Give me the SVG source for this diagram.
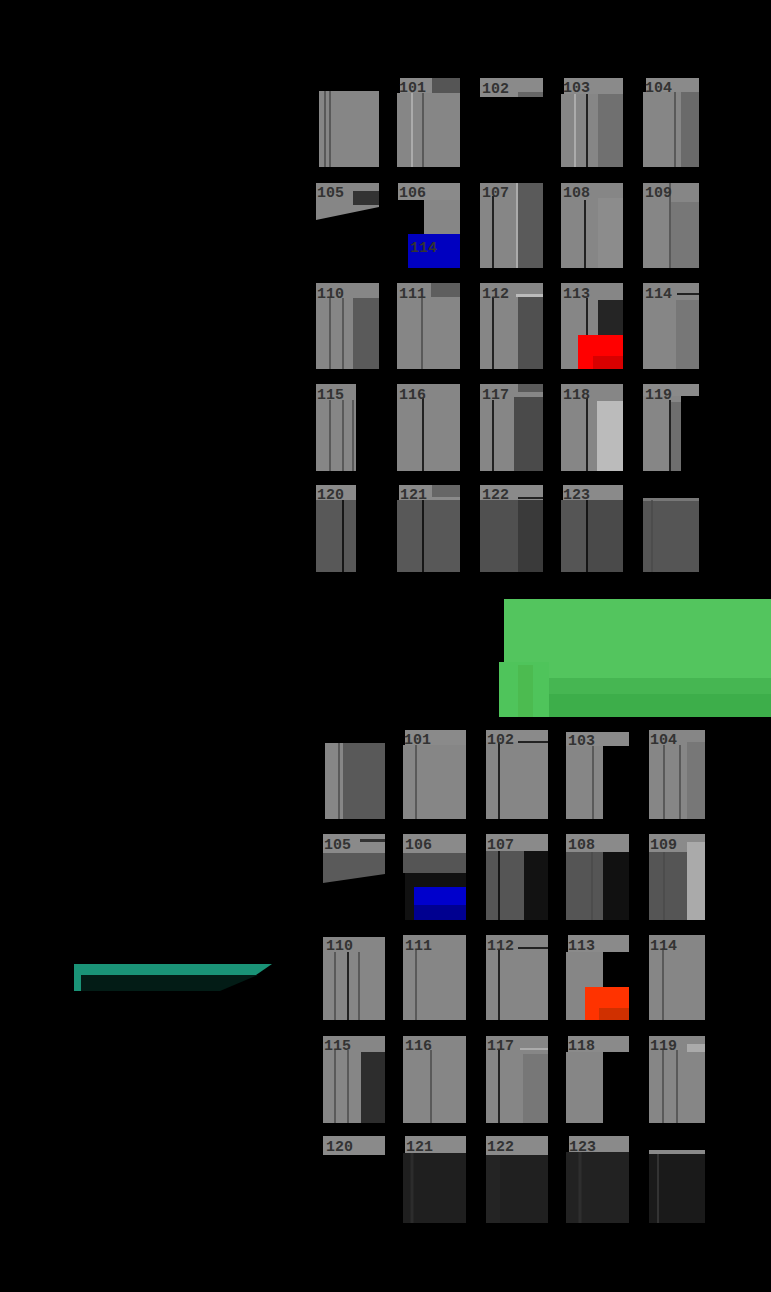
<svg xmlns="http://www.w3.org/2000/svg" width="771" height="1292" viewBox="0 0 771 1292">
<style>
.bd{fill:#8a8a8a}
.bo{fill:#868686}
.t{font-family:"Liberation Mono",monospace;font-size:15px;font-weight:bold;fill:#333}
.dl{stroke:#4a4a4a;stroke-width:1.5}
.bl{stroke:#000;stroke-width:1.5}
.wl{stroke:#d0d0d0;stroke-width:1}
</style>
<rect width="771" height="1292" fill="#000"/>
<g id="grid-top">
 <g id="t100"><rect class="bo" x="319" y="91" width="60" height="76"/><line class="dl" x1="325" y1="91" x2="325" y2="167"/><line class="dl" x1="330" y1="91" x2="330" y2="167"/></g>
 <g id="t101"><rect class="bo" x="397" y="93" width="63" height="74"/><rect class="bd" x="400" y="78" width="60" height="15"/><rect fill="#555" x="432" y="78" width="28" height="15"/><line class="wl" x1="412" y1="93" x2="412" y2="167"/><line class="dl" x1="423" y1="93" x2="423" y2="167"/><text class="t" x="399" y="92">101</text></g>
 <g id="t102"><rect class="bd" x="480" y="78" width="63" height="19"/><rect fill="#666" x="518" y="92" width="25" height="5"/><text class="t" x="482" y="93">102</text></g>
 <g id="t103"><rect class="bo" x="561" y="94" width="62" height="73"/><rect fill="#707070" x="598" y="94" width="25" height="73"/><rect class="bd" x="564" y="78" width="59" height="16"/><line class="wl" x1="575" y1="94" x2="575" y2="167"/><line class="bl" x1="587" y1="94" x2="587" y2="167"/><text class="t" x="563" y="92">103</text></g>
 <g id="t104"><rect class="bo" x="643" y="92" width="56" height="75"/><rect fill="#6a6a6a" x="681" y="92" width="18" height="75"/><rect class="bd" x="646" y="78" width="53" height="14"/><line class="dl" x1="675" y1="92" x2="675" y2="167"/><text class="t" x="645" y="92">104</text></g>

 <g id="t105"><polygon class="bo" points="316,183 379,183 379,207 316,220"/><rect fill="#333" x="353" y="191" width="26" height="14"/><text class="t" x="317" y="197">105</text></g>
 <g id="t106"><rect class="bd" x="398" y="183" width="62" height="17"/><rect class="bo" x="424" y="200" width="36" height="35"/><rect fill="#0000c0" x="408" y="234" width="52" height="34"/><text class="t" x="399" y="197">106</text><text class="t" x="410" y="252" fill="#000070">114</text></g>
 <g id="t107"><rect class="bo" x="480" y="183" width="63" height="85"/><rect fill="#5a5a5a" x="518" y="183" width="25" height="85"/><line class="bl" x1="493" y1="196" x2="493" y2="268"/><line class="wl" x1="517" y1="183" x2="517" y2="268"/><text class="t" x="482" y="197">107</text></g>
 <g id="t108"><rect class="bo" x="561" y="183" width="62" height="85"/><rect fill="#8c8c8c" x="598" y="198" width="25" height="70"/><line class="bl" x1="585" y1="200" x2="585" y2="268"/><text class="t" x="563" y="197">108</text></g>
 <g id="t109"><rect class="bo" x="643" y="183" width="56" height="85"/><rect fill="#777" x="671" y="202" width="28" height="66"/><line class="dl" x1="670" y1="183" x2="670" y2="268"/><text class="t" x="645" y="197">109</text></g>

 <g id="t110"><rect class="bo" x="316" y="283" width="63" height="86"/><rect fill="#5a5a5a" x="353" y="298" width="26" height="71"/><line class="dl" x1="330" y1="298" x2="330" y2="369"/><line class="dl" x1="343" y1="298" x2="343" y2="369"/><text class="t" x="317" y="298">110</text></g>
 <g id="t111"><rect class="bo" x="397" y="283" width="63" height="86"/><rect fill="#5e5e5e" x="431" y="283" width="29" height="14"/><line class="dl" x1="422" y1="297" x2="422" y2="369"/><text class="t" x="399" y="298">111</text></g>
 <g id="t112"><rect class="bo" x="480" y="283" width="63" height="86"/><rect fill="#505050" x="518" y="297" width="25" height="72"/><rect fill="#bbb" x="516" y="294" width="27" height="3"/><line class="bl" x1="493" y1="297" x2="493" y2="369"/><text class="t" x="482" y="298">112</text></g>
 <g id="t113"><rect class="bo" x="561" y="283" width="62" height="86"/><rect fill="#252525" x="598" y="300" width="25" height="35"/><rect fill="#ff0000" x="578" y="335" width="45" height="34"/><rect fill="#d80000" x="593" y="356" width="30" height="13"/><line class="bl" x1="587" y1="298" x2="587" y2="335"/><text class="t" x="563" y="298">113</text></g>
 <g id="t114"><rect class="bo" x="643" y="283" width="56" height="86"/><rect fill="#777" x="676" y="300" width="23" height="69"/><line class="bl" x1="677" y1="294" x2="699" y2="294"/><text class="t" x="645" y="298">114</text></g>

 <g id="t115"><rect class="bo" x="316" y="384" width="40" height="87"/><line class="dl" x1="330" y1="400" x2="330" y2="471"/><line class="dl" x1="343" y1="400" x2="343" y2="471"/><line class="dl" x1="353" y1="400" x2="353" y2="471"/><text class="t" x="317" y="399">115</text></g>
 <g id="t116"><rect class="bo" x="397" y="384" width="63" height="87"/><line class="bl" x1="423" y1="398" x2="423" y2="471"/><text class="t" x="399" y="399">116</text></g>
 <g id="t117"><rect class="bo" x="480" y="384" width="63" height="87"/><rect fill="#4a4a4a" x="514" y="397" width="29" height="74"/><rect fill="#5a5a5a" x="518" y="384" width="25" height="8"/><line class="bl" x1="493" y1="400" x2="493" y2="471"/><text class="t" x="482" y="399">117</text></g>
 <g id="t118"><rect class="bo" x="561" y="384" width="62" height="87"/><rect fill="#bbbbbb" x="597" y="401" width="26" height="70"/><line class="bl" x1="587" y1="398" x2="587" y2="471"/><text class="t" x="563" y="399">118</text></g>
 <g id="t119"><rect class="bo" x="643" y="384" width="38" height="87"/><rect class="bd" x="643" y="384" width="56" height="12"/><rect fill="#6e6e6e" x="671" y="402" width="10" height="69"/><line class="bl" x1="670" y1="400" x2="670" y2="471"/><text class="t" x="645" y="399">119</text></g>

 <g id="t120"><rect fill="#585858" x="316" y="500" width="40" height="72"/><rect class="bd" x="316" y="485" width="40" height="15"/><line class="bl" x1="343" y1="500" x2="343" y2="572"/><text class="t" x="317" y="499">120</text></g>
 <g id="t121"><rect fill="#585858" x="397" y="500" width="63" height="72"/><rect class="bd" x="399" y="485" width="61" height="15"/><rect fill="#666" x="432" y="485" width="28" height="12"/><line class="bl" x1="423" y1="500" x2="423" y2="572"/><text class="t" x="400" y="499">121</text></g>
 <g id="t122"><rect fill="#505050" x="480" y="500" width="63" height="72"/><rect fill="#3a3a3a" x="518" y="500" width="25" height="72"/><rect class="bd" x="480" y="485" width="63" height="15"/><line class="bl" x1="518" y1="498" x2="543" y2="498"/><text class="t" x="482" y="499">122</text></g>
 <g id="t123"><rect fill="#555" x="561" y="500" width="62" height="72"/><rect fill="#4a4a4a" x="588" y="500" width="35" height="72"/><rect class="bd" x="563" y="485" width="60" height="15"/><line class="bl" x1="587" y1="500" x2="587" y2="572"/><text class="t" x="563" y="499">123</text></g>
 <g id="t124"><rect fill="#555" x="643" y="498" width="56" height="74"/><rect fill="#777" x="643" y="498" width="56" height="3"/><line class="dl" x1="652" y1="500" x2="652" y2="572"/></g>
</g>

<g id="green-block">
 <rect fill="#53c55e" x="504" y="599" width="267" height="118"/>
 <rect fill="#46b652" x="499" y="678" width="272" height="16"/>
 <rect fill="#3dae4a" x="499" y="694" width="272" height="23"/>
 <rect fill="#4fc45b" x="499" y="662" width="50" height="55"/>
 <rect fill="#4cbb50" x="518" y="665" width="15" height="52"/>
</g>

<g id="grid-bottom">
 <g id="b100"><rect class="bo" x="325" y="743" width="60" height="76"/><rect fill="#595959" x="343" y="743" width="42" height="76"/><line class="dl" x1="339" y1="743" x2="339" y2="819"/></g>
 <g id="b101"><rect class="bo" x="403" y="745" width="63" height="74"/><rect class="bd" x="405" y="730" width="61" height="15"/><line class="dl" x1="416" y1="745" x2="416" y2="819"/><text class="t" x="404" y="744">101</text></g>
 <g id="b102"><rect class="bo" x="486" y="742" width="62" height="77"/><rect class="bd" x="486" y="730" width="62" height="12"/><line class="bl" x1="518" y1="742" x2="548" y2="742"/><line class="bl" x1="499" y1="742" x2="499" y2="819"/><text class="t" x="487" y="744">102</text></g>
 <g id="b103"><rect class="bo" x="566" y="746" width="37" height="73"/><rect class="bd" x="566" y="732" width="63" height="14"/><line class="dl" x1="593" y1="746" x2="593" y2="819"/><text class="t" x="568" y="745">103</text></g>
 <g id="b104"><rect class="bo" x="649" y="730" width="56" height="89"/><rect fill="#777" x="687" y="742" width="18" height="77"/><line class="dl" x1="664" y1="745" x2="664" y2="819"/><line class="dl" x1="680" y1="745" x2="680" y2="819"/><text class="t" x="650" y="744">104</text></g>

 <g id="b105"><polygon fill="#5a5a5a" points="323,853 385,853 385,874 323,883"/><rect class="bd" x="323" y="834" width="62" height="19"/><rect fill="#333" x="360" y="839" width="25" height="3"/><text class="t" x="324" y="849">105</text></g>
 <g id="b106"><rect class="bd" x="403" y="834" width="63" height="19"/><rect fill="#555" x="403" y="853" width="63" height="20"/><rect fill="#111" x="405" y="873" width="61" height="47"/><rect fill="#0000cc" x="414" y="887" width="52" height="33"/><rect fill="#000090" x="414" y="905" width="52" height="15"/><text class="t" x="405" y="849">106</text></g>
 <g id="b107"><rect fill="#555" x="486" y="834" width="62" height="86"/><rect fill="#121212" x="524" y="851" width="24" height="69"/><rect class="bd" x="486" y="834" width="62" height="17"/><line class="bl" x1="499" y1="851" x2="499" y2="920"/><text class="t" x="487" y="849">107</text></g>
 <g id="b108"><rect fill="#555" x="566" y="834" width="63" height="86"/><rect fill="#111" x="603" y="852" width="26" height="68"/><rect class="bd" x="566" y="834" width="63" height="18"/><line class="dl" x1="592" y1="852" x2="592" y2="920"/><text class="t" x="568" y="849">108</text></g>
 <g id="b109"><rect fill="#555" x="649" y="834" width="56" height="86"/><rect class="bd" x="649" y="834" width="56" height="18"/><rect fill="#aaa" x="687" y="842" width="18" height="78"/><line class="dl" x1="664" y1="852" x2="664" y2="920"/><text class="t" x="650" y="849">109</text></g>

 <g id="b110"><rect class="bo" x="323" y="937" width="62" height="83"/><line class="dl" x1="335" y1="952" x2="335" y2="1020"/><line class="bl" x1="348" y1="952" x2="348" y2="1020"/><line class="dl" x1="359" y1="952" x2="359" y2="1020"/><text class="t" x="326" y="950">110</text></g>
 <g id="b111"><rect class="bo" x="403" y="935" width="63" height="85"/><line class="dl" x1="416" y1="950" x2="416" y2="1020"/><text class="t" x="405" y="950">111</text></g>
 <g id="b112"><rect class="bo" x="486" y="935" width="62" height="85"/><line class="bl" x1="499" y1="950" x2="499" y2="1020"/><line class="bl" x1="518" y1="948" x2="548" y2="948"/><text class="t" x="487" y="950">112</text></g>
 <g id="b113"><rect class="bo" x="566" y="952" width="37" height="68"/><rect class="bd" x="568" y="935" width="61" height="17"/><rect fill="#ff3300" x="585" y="987" width="44" height="33"/><rect fill="#d03000" x="599" y="1008" width="30" height="12"/><text class="t" x="568" y="950">113</text></g>
 <g id="b114"><rect class="bo" x="649" y="935" width="56" height="85"/><line class="dl" x1="663" y1="948" x2="663" y2="1020"/><text class="t" x="650" y="950">114</text></g>

 <g id="b115"><rect class="bo" x="323" y="1036" width="62" height="87"/><rect fill="#2d2d2d" x="361" y="1052" width="24" height="71"/><line class="dl" x1="335" y1="1050" x2="335" y2="1123"/><line class="dl" x1="348" y1="1050" x2="348" y2="1123"/><text class="t" x="324" y="1050">115</text></g>
 <g id="b116"><rect class="bo" x="403" y="1036" width="63" height="87"/><line class="dl" x1="431" y1="1050" x2="431" y2="1123"/><text class="t" x="405" y="1050">116</text></g>
 <g id="b117"><rect class="bo" x="486" y="1036" width="62" height="87"/><rect fill="#777" x="523" y="1054" width="25" height="69"/><line class="bl" x1="499" y1="1050" x2="499" y2="1123"/><line class="wl" x1="520" y1="1049" x2="548" y2="1049"/><text class="t" x="487" y="1050">117</text></g>
 <g id="b118"><rect class="bo" x="566" y="1052" width="37" height="71"/><rect class="bd" x="568" y="1036" width="61" height="16"/><text class="t" x="568" y="1050">118</text></g>
 <g id="b119"><rect class="bo" x="649" y="1036" width="56" height="87"/><rect fill="#aaa" x="687" y="1044" width="18" height="8"/><line class="dl" x1="663" y1="1050" x2="663" y2="1123"/><line class="dl" x1="677" y1="1050" x2="677" y2="1123"/><text class="t" x="650" y="1050">119</text></g>

 <g id="b120"><rect class="bd" x="323" y="1136" width="62" height="19"/><text class="t" x="326" y="1151">120</text></g>
 <g id="b121"><rect fill="#1f1f1f" x="403" y="1153" width="63" height="70"/><rect class="bd" x="405" y="1136" width="61" height="17"/><line x1="412" y1="1153" x2="412" y2="1223" stroke="#2c2c2c" stroke-width="3"/><text class="t" x="406" y="1151">121</text></g>
 <g id="b122"><rect fill="#202020" x="486" y="1155" width="62" height="68"/><rect fill="#242424" x="486" y="1155" width="14" height="68"/><rect class="bd" x="486" y="1136" width="62" height="19"/><text class="t" x="487" y="1151">122</text></g>
 <g id="b123"><rect fill="#222" x="566" y="1152" width="63" height="71"/><line x1="580" y1="1152" x2="580" y2="1223" stroke="#2e2e2e" stroke-width="3"/><rect class="bd" x="569" y="1136" width="60" height="16"/><text class="t" x="569" y="1151">123</text></g>
 <g id="b124"><rect fill="#1a1a1a" x="649" y="1150" width="56" height="73"/><rect fill="#8a8a8a" x="649" y="1150" width="56" height="4"/><line x1="658" y1="1154" x2="658" y2="1223" stroke="#333" stroke-width="2"/></g>
</g>

<g id="teal-bar">
 <polygon fill="#031c16" points="74,975 258,975 220,991 74,991"/>
 <polygon fill="#1a9377" points="74,964 272,964 256,975 74,975"/>
 <rect fill="#1a9377" x="74" y="964" width="7" height="27"/>
</g>
<g id="connectors"/>
</svg>
